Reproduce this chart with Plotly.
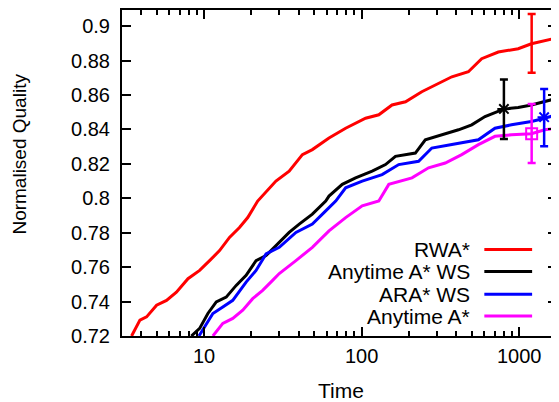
import plotly.graph_objects as go

# ---- data ----
rwa_t = [3.47, 3.92, 4.32, 5.0, 5.78, 6.68, 7.91, 9.38, 10.85, 12.55, 14.51, 16.79, 18.94, 21.9,
         28.6, 34.7, 42.1, 48.7, 62.1, 79.2, 106, 128.6, 156, 190, 241, 308, 374, 476, 578, 737,
         986, 1196, 1453, 1738]
rwa_q = [0.72, 0.7292, 0.7311, 0.7379, 0.7407, 0.7455, 0.7533, 0.7581, 0.7638, 0.7696, 0.7773,
         0.783, 0.7888, 0.7984, 0.81, 0.8158, 0.8254, 0.8283, 0.835, 0.8407, 0.8465, 0.8485,
         0.8542, 0.8561, 0.8619, 0.8667, 0.8706, 0.8735, 0.8811, 0.885, 0.8869, 0.8898, 0.8917,
         0.8932]

aws_t = [8.31, 9.38, 10.58, 11.96, 13.83, 16.0, 18.5, 21.39, 24.75, 30.03, 34.7, 40.2, 48.7,
         59.2, 62.1, 75.4, 91.6, 116.7, 141.8, 164, 219.3, 253.7, 323, 412, 500, 607, 804, 986,
         1196, 1453, 1738]
aws_q = [0.72, 0.7244, 0.7331, 0.7398, 0.7426, 0.7494, 0.7552, 0.7638, 0.7667, 0.7745, 0.7802,
         0.785, 0.7908, 0.7984, 0.8013, 0.8081, 0.8119, 0.8158, 0.8196, 0.8244, 0.8263, 0.834,
         0.8369, 0.8398, 0.8427, 0.8475, 0.8519, 0.8527, 0.8542, 0.8561, 0.8581]

ara_t = [9.29, 10.09, 11.38, 13.16, 15.22, 18.5, 21.39, 24.75, 30.03, 38.3, 48.7, 59.2, 68.5,
         79.2, 100.9, 134.9, 172, 230, 279, 374, 551, 702, 894, 1196, 1453, 1738]
ara_q = [0.72, 0.7253, 0.7331, 0.7369, 0.7407, 0.7513, 0.7581, 0.7677, 0.7715, 0.7802, 0.785,
         0.7927, 0.7984, 0.8061, 0.81, 0.8138, 0.8196, 0.8215, 0.8292, 0.8312, 0.834, 0.8407,
         0.8427, 0.8446, 0.8465, 0.8488]

any_t = [11.38, 13.16, 15.22, 17.61, 20.36, 23.56, 27.24, 30.03, 38.3, 48.7, 62.1, 79.2, 100.9,
         128.6, 148.8, 208.8, 266, 339.5, 432, 551, 702, 894, 1196, 1453, 1738]
any_q = [0.72, 0.7273, 0.7302, 0.735, 0.7417, 0.7465, 0.7523, 0.7563, 0.7638, 0.7715, 0.7811,
         0.7888, 0.7956, 0.7984, 0.8081, 0.8119, 0.8177, 0.8205, 0.8254, 0.8312, 0.836, 0.8369,
         0.8375, 0.8398, 0.8407]

# error bar points: time, mean, upper, lower
err_t = {"RWA*": 1200, "Anytime A* WS": 800, "ARA* WS": 1440, "Anytime A*": 1200}
err_mean = {"RWA*": 0.8898, "Anytime A* WS": 0.8519, "ARA* WS": 0.8471, "Anytime A*": 0.8375}
err_hi = {"RWA*": 0.9071, "Anytime A* WS": 0.869, "ARA* WS": 0.8635, "Anytime A*": 0.8548}
err_lo = {"RWA*": 0.8729, "Anytime A* WS": 0.8344, "ARA* WS": 0.8302, "Anytime A*": 0.8205}

series_names = ["RWA*", "Anytime A* WS", "ARA* WS", "Anytime A*"]
series_colors = ["#ff0000", "#000000", "#0000ff", "#ff00ff"]
series_markers = [None, "asterisk-open", "asterisk-open", "square-open"]

x_tick_vals = [10, 100, 1000]
x_tick_text = ["10", "100", "1000"]
y_tick_vals = [0.72, 0.74, 0.76, 0.78, 0.80, 0.82, 0.84, 0.86, 0.88, 0.90]
y_tick_text = ["0.72", "0.74", "0.76", "0.78", "0.8", "0.82", "0.84", "0.86", "0.88", "0.9"]
minor_vals = [3, 4, 5, 6, 7, 8, 9, 20, 30, 40, 50, 60, 70, 80, 90,
              200, 300, 400, 500, 600, 700, 800, 900]

FONT = "Liberation Sans, Arial, sans-serif"
OFF = 8  # page offset of the figure (body margin)
W, H = 559 - OFF, 402 - OFF
ML, MR, MT, MB = 114, 0, 0, 66

fig = go.Figure()
data = [(rwa_t, rwa_q), (aws_t, aws_q), (ara_t, ara_q), (any_t, any_q)]
for (t, q), name, col in zip(data, series_names, series_colors):
    fig.add_trace(go.Scatter(x=t, y=q, mode="lines", name=name,
                             line=dict(color=col, width=3), showlegend=False))

for name, col, mk in zip(series_names, series_colors, series_markers):
    m = err_mean[name]
    fig.add_trace(go.Scatter(
        x=[err_t[name]], y=[m], mode="markers" if mk else "lines",
        marker=dict(symbol=mk or "circle", size=11, color=col,
                    line=dict(color=col, width=2)),
        error_y=dict(type="data", symmetric=False, array=[err_hi[name] - m],
                     arrayminus=[m - err_lo[name]], color=col, thickness=2.5, width=4),
        showlegend=False))

axis_common = dict(showline=True, linecolor="black", linewidth=2, mirror="ticks",
                   ticks="inside", ticklen=9, tickwidth=1.5, tickcolor="black",
                   showgrid=False, zeroline=False,
                   tickfont=dict(family=FONT, size=20, color="black"))

fig.update_xaxes(type="log", range=[0.4795, 3.24], tickvals=x_tick_vals, ticktext=x_tick_text,
                 minor=dict(tickvals=minor_vals, ticks="inside", ticklen=5, tickwidth=1.5,
                            tickcolor="black", showgrid=False),
                 ticklabelstandoff=1, **axis_common)
fig.update_yaxes(range=[0.72, 0.9094], tickvals=y_tick_vals, ticktext=y_tick_text,
                 ticklabelstandoff=6, **axis_common)

pw = W - ML - MR
ph = H - MT - MB

def px(x):
    return (x - OFF - ML) / pw

def py(y):
    return (H - MB - (y - OFF)) / ph

annotations = [
    dict(text="Normalised Quality", x=px(19), y=py(153), xref="paper", yref="paper",
         textangle=-90, showarrow=False, xanchor="center", yanchor="middle",
         font=dict(family=FONT, size=19, color="black")),
    dict(text="Time", x=px(342), y=py(391), xref="paper", yref="paper",
         showarrow=False, xanchor="center", yanchor="middle",
         font=dict(family=FONT, size=21, color="black")),
]
shapes = []
rows = [249, 271, 294, 316]
for name, col, ry in zip(series_names, series_colors, rows):
    annotations.append(dict(text=name, x=px(474), y=py(ry), xref="paper", yref="paper",
                            showarrow=False, xanchor="right", yanchor="middle",
                            font=dict(family=FONT, size=21, color="black")))
    shapes.append(dict(type="line", xref="paper", yref="paper", x0=px(486), x1=px(534),
                       y0=py(ry), y1=py(ry), line=dict(color=col, width=3)))

fig.update_layout(width=W, height=H, margin=dict(l=ML, r=MR, t=MT, b=MB),
                  paper_bgcolor="white", plot_bgcolor="white",
                  annotations=annotations, shapes=shapes, showlegend=False)

fig.write_html("out.html")
